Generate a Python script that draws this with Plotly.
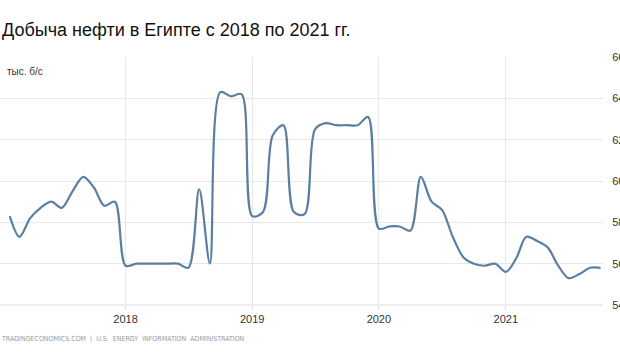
import plotly.graph_objects as go
import pandas as pd

# Monthly oil production in Egypt, thousand barrels per day (Feb 2017 - Oct 2021)
months = pd.date_range("2017-02-01", "2021-10-01", freq="MS").strftime("%Y-%m-%d").tolist()
production = [
    583, 573, 582, 587, 590, 587, 595, 602, 597, 588, 590,          # 2017 Feb-Dec
    559, 560, 560, 560, 560, 560, 558, 596, 560, 643, 641, 642,      # 2018
    583, 585, 622, 627, 585, 584, 625, 628, 627, 627, 627, 631,      # 2019
    577, 578, 578, 576, 602, 590, 586, 573, 563, 560, 559, 560,      # 2020
    556, 563, 573, 571, 568, 559, 553, 555, 558,                     # 2021 Jan-Sep
    558,
]
production = production[:len(months)]

title_text = "Добыча нефти в Египте с 2018 по 2021 гг."
unit_text = "тыс. б/с"
source_text = "TRADINGECONOMICS.COM  |  U.S.  ENERGY  INFORMATION  ADMINISTRATION"
year_ticks = ["2018-01-01", "2019-01-01", "2020-01-01", "2021-01-01"]
year_labels = ["2018", "2019", "2020", "2021"]
y_ticks = [540, 560, 580, 600, 620, 640, 660]

fig = go.Figure()
fig.add_trace(go.Scatter(
    x=months, y=production, mode="lines",
    line=dict(color="#5a7fa3", width=2.2, shape="spline", smoothing=0.9),
    hoverinfo="skip", showlegend=False,
))

W, H = 620, 364
plot_left, plot_right = 0, 603
plot_top, plot_bottom = 56.7, 305.5

fig.update_layout(
    width=W, height=H,
    paper_bgcolor="white", plot_bgcolor="white",
    margin=dict(l=plot_left, r=W - plot_right, t=plot_top, b=H - plot_bottom, pad=0),
    font=dict(family="Liberation Sans, Arial, sans-serif", color="#333"),
    title=dict(text=title_text, x=2 / W, xref="container", xanchor="left",
               y=1 - 30 / H, yref="container", yanchor="middle",
               font=dict(size=18, color="#111")),
    xaxis=dict(
        type="date", range=["2017-01-04", "2021-10-08"],
        tickvals=year_ticks, ticktext=year_labels,
        showgrid=True, gridcolor="#e8e8e8", gridwidth=1,
        showline=False, zeroline=False,
        ticks="outside", ticklen=4, tickcolor="#e0e0e0",
        tickfont=dict(size=11, color="#333"), automargin=False,
    ),
    yaxis=dict(
        range=[540, 660], side="right",
        tickvals=y_ticks, ticktext=[str(v) for v in y_ticks],
        showgrid=True, gridcolor="#e8e8e8", gridwidth=1,
        zeroline=False, showline=False,
        ticks="outside", ticklen=6, tickcolor="rgba(0,0,0,0)",
        tickfont=dict(size=11, color="#333"), automargin=False,
    ),
    annotations=[
        dict(text=unit_text, xref="paper", yref="paper",
             x=5 / (plot_right - plot_left), y=(plot_bottom - 71) / (plot_bottom - plot_top),
             xanchor="left", yanchor="middle", showarrow=False,
             font=dict(size=10, color="#333")),
        dict(text=source_text, xref="paper", yref="paper",
             x=-1 / (plot_right - plot_left), y=(plot_bottom - 340) / (plot_bottom - plot_top),
             xanchor="left", yanchor="middle", showarrow=False,
             font=dict(size=7, color="#9a9a9a", family="DejaVu Sans Condensed, Liberation Sans Narrow, sans-serif")),
    ],
)
fig.add_shape(type="line", xref="paper", yref="paper", x0=0, x1=1, y0=0, y1=0,
              line=dict(color="#dedede", width=1))

fig.write_html("out.html", config={"displayModeBar": False},
               post_script="document.body.style.margin='0';")
